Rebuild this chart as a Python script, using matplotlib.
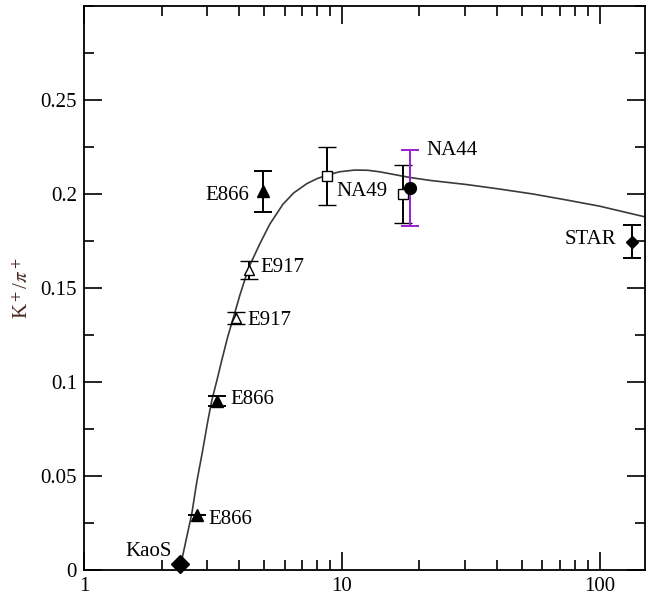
import matplotlib
matplotlib.use('Agg')
import matplotlib.pyplot as plt
from matplotlib.ticker import LogLocator, MultipleLocator, FixedFormatter, FixedLocator

plt.rcParams['font.family'] = ['Liberation Serif', 'DejaVu Serif']
plt.rcParams['mathtext.fontset'] = 'stix'

# model curve
curve_x = [2.33, 2.41, 2.49, 2.62, 2.74, 2.89, 3.02, 3.13, 3.28, 3.43, 3.61, 3.85, 4.02,
           4.36, 4.81, 5.26, 5.91, 6.5, 7.32, 8.0, 8.75, 9.8, 11.2, 12.6, 14.0, 16.0,
           18.3, 22.0, 30.5, 40.0, 55, 75, 100, 150]
curve_y = [0.001, 0.007, 0.016, 0.030, 0.047, 0.064, 0.079, 0.090, 0.101, 0.112, 0.124, 0.137, 0.146,
           0.161, 0.1735, 0.1840, 0.1945, 0.2005, 0.2055, 0.2081, 0.2100, 0.2118, 0.2127, 0.2126, 0.2118, 0.2103,
           0.2088, 0.2072, 0.2050, 0.2028, 0.2000, 0.1967, 0.1935, 0.1878]

# measurements
kaos_x, kaos_y = [2.36], [0.003]
e866_x = [2.74, 3.28, 4.94]
e866_y = [0.029, 0.090, 0.2015]
e866_err = [0.0, 0.0027, 0.0109]
e917_x = [3.88, 4.36]
e917_y = [0.134, 0.1596]
e917_err = [0.003, 0.0048]
na49_x = [8.75, 17.2]
na49_y = [0.2096, 0.2000]
na49_err = [0.0154, 0.0154]
na44_x, na44_y, na44_err = [18.4], [0.2032], [0.0202]
star_x, star_y, star_err = [133], [0.1745], [0.0088]

fig = plt.figure(figsize=(6.46, 5.98), dpi=100)
ax = fig.add_axes([0.130, 0.047, 0.8685, 0.943])

ax.plot(curve_x, curve_y, color='#3a3a3a', lw=1.2, zorder=2)

eb = dict(ecolor='black', elinewidth=1.4, capthick=1.4, ls='none', zorder=3)
ax.errorbar(e866_x, e866_y, yerr=e866_err, fmt='^', color='black', ms=8, capsize=6.5, **eb)
ax.errorbar(e917_x, e917_y, yerr=e917_err, fmt='^', color='black', mfc='white', mew=1.0, ms=7.5, capsize=6.5, **eb)
ax.errorbar(na49_x, na49_y, yerr=na49_err, fmt='s', color='black', mfc='white', mew=1.0, ms=6.5, capsize=6.5, **eb)
ax.errorbar(na44_x, na44_y, yerr=na44_err, fmt='o', color='black', ms=8.5, capsize=6.5,
            ecolor='#9b1fd0', elinewidth=1.4, capthick=1.4, ls='none', zorder=4)
ax.errorbar(star_x, star_y, yerr=star_err, fmt='D', color='black', ms=6, capsize=6.5, **eb)
ax.plot(kaos_x, kaos_y, 'D', color='black', ms=9, zorder=4, clip_on=False)

lab = dict(textcoords='offset points', fontsize=15, va='center')
ax.annotate('KaoS', (kaos_x[0], kaos_y[0]), xytext=(-6, 9), ha='right', **lab)
ax.annotate('E866', (e866_x[0], e866_y[0]), xytext=(8, -3), ha='left', **lab)
ax.annotate('E866', (e866_x[1], e866_y[1]), xytext=(10, 1), ha='left', **lab)
ax.annotate('E866', (e866_x[2], e866_y[2]), xytext=(-10, -3), ha='right', **lab)
ax.annotate('E917', (e917_x[0], e917_y[0]), xytext=(8, -1.5), ha='left', **lab)
ax.annotate('E917', (e917_x[1], e917_y[1]), xytext=(8, 2), ha='left', **lab)
ax.annotate('NA49', (na49_x[0], na49_y[0]), xytext=(7, -11), ha='left', **lab)
ax.annotate('NA44', (na44_x[0], na44_y[0]), xytext=(11.5, 27), ha='left', **lab)
ax.annotate('STAR', (star_x[0], star_y[0]), xytext=(-11, 1.5), ha='right', **lab)

ax.set_xscale('log')
ax.set_xlim(1, 150)
ax.set_ylim(0, 0.3)
ax.xaxis.set_major_locator(FixedLocator([1, 10, 100]))
ax.xaxis.set_major_formatter(FixedFormatter(['1', '10', '100']))
ax.xaxis.set_minor_locator(LogLocator(base=10, subs=range(2, 10)))
ax.xaxis.set_minor_formatter(FixedFormatter([]))
ax.yaxis.set_major_locator(FixedLocator([0, 0.05, 0.1, 0.15, 0.2, 0.25]))
ax.yaxis.set_major_formatter(FixedFormatter(['0', '0.05', '0.1', '0.15', '0.2', '0.25']))
ax.yaxis.set_minor_locator(MultipleLocator(0.025))

ax.tick_params(which='both', direction='in', top=True, right=True, width=1.2, labelsize=15)
ax.tick_params(which='major', length=13, pad=5)
ax.tick_params(which='minor', length=7)
for s in ax.spines.values():
    s.set_linewidth(1.3)

ax.set_ylabel(r'K$^+$/$\pi^+$', fontsize=15, color='#4a2a20')
ax.yaxis.set_label_coords(-0.09, 0.5)

fig.savefig('out.png', dpi=100)
